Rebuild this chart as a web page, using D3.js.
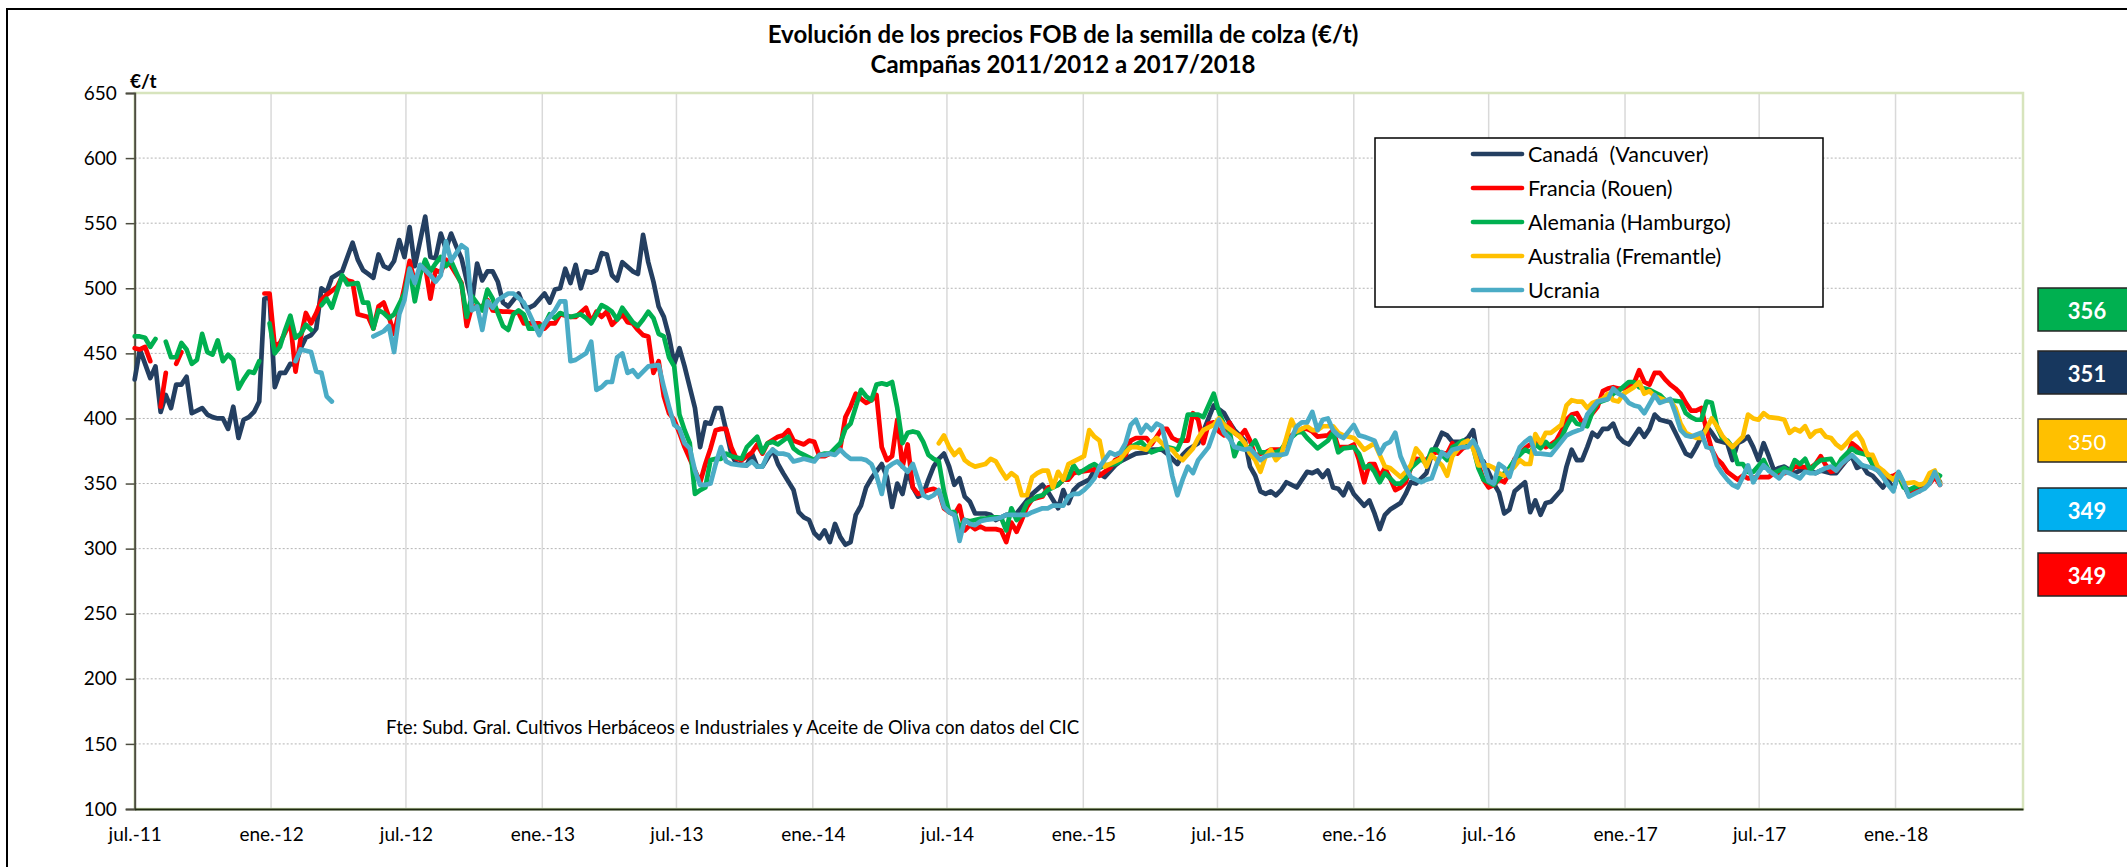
<!DOCTYPE html>
<html><head><meta charset="utf-8">
<script src="https://cdn.jsdelivr.net/npm/d3@7"></script>
<style>
html,body{margin:0;padding:0;background:#fff;}
svg{display:block;font-family:Lato,"Open Sans",sans-serif;}
svg text{white-space:pre;}
</style></head><body>
<svg id="c" width="2127" height="867"></svg>
<script>
// ---------- DATA ----------
const titleLines = ["Evolución de los precios FOB de la semilla de colza (€/t)", "Campañas 2011/2012 a 2017/2018"];
const unitLabel = "€/t";
const sourceNote = "Fte: Subd. Gral. Cultivos Herbáceos e Industriales y Aceite de Oliva con datos del CIC";
const firstWeek = new Date(2011, 6, 1);          // week index 0
const yTicks = [100,150,200,250,300,350,400,450,500,550,600,650];
const xTickLabels = ["jul.-11","ene.-12","jul.-12","ene.-13","jul.-13","ene.-14","jul.-14","ene.-15","jul.-15","ene.-16","jul.-16","ene.-17","jul.-17","ene.-18"];
const seriesNames = ["Canadá  (Vancuver)","Francia (Rouen)","Alemania (Hamburgo)","Australia (Fremantle)","Ucrania"];

// [week index, €/t]; null = no quotation
const canada = [[0,430],[1,453],[3,431],[4,440],[5,405],[6,418],[7,408],[8,426],[9,426],[10,432],[11,404],[13,408],[14,403],[15,401],[16,400],[17,400],[18,392],[19,409],[20,385],[21,399],[22,401],[23,405],[24,413],[25,492],[26,493],[27,424],[28,435],[29,435],[30,442],[31,441],[32,454],[33,462],[34,464],[35,469],[36,500],[37,497],[38,508],[40,513],[42,535],[43,522],[44,514],[45,511],[46,508],[47,526],[48,517],[49,515],[50,521],[51,537],[52,524],[53,547],[54,517],[56,555],[57,524],[58,523],[59,542],[60,530],[61,542],[62,532],[63,523],[64,506],[65,489],[66,519],[67,506],[68,513],[69,513],[70,505],[71,489],[72,486],[73,491],[74,496],[75,486],[76,485],[77,487],[79,496],[80,489],[81,499],[82,500],[83,515],[84,504],[85,518],[86,500],[87,513],[88,512],[89,514],[90,527],[91,526],[92,510],[93,506],[94,520],[96,513],[97,511],[98,541],[99,520],[100,505],[101,486],[102,478],[103,463],[104,442],[105,454],[106,440],[107,424],[108,408],[109,378],[110,397],[111,396],[112,408],[113,408],[114,391],[115,373],[116,365],[118,364],[119,373],[120,363],[121,363],[123,376],[124,365],[125,358],[127,345],[128,328],[129,324],[130,322],[131,312],[132,308],[133,314],[134,305],[135,319],[136,309],[137,303],[138,305],[139,326],[140,333],[141,347],[142,354],[144,365],[145,355],[146,332],[147,350],[148,342],[149,360],[150,347],[151,340],[152,342],[153,353],[154,363],[155,369],[156,373],[157,363],[158,349],[159,354],[160,340],[161,336],[162,327],[164,327],[165,326],[166,322],[168,326],[170,327],[172,337],[173,342],[175,349],[176,344],[178,331],[179,345],[180,335],[181,345],[182,349],[184,353],[185,360],[187,355],[189,364],[190,367],[192,371],[193,373],[195,374],[196,376],[198,376],[199,373],[201,365],[202,372],[203,376],[205,381],[206,390],[207,400],[208,410],[210,404],[211,397],[212,391],[214,383],[215,363],[216,356],[217,344],[218,342],[219,344],[220,341],[221,345],[222,351],[224,347],[226,359],[227,358],[228,360],[229,355],[230,360],[231,347],[232,346],[233,341],[234,350],[235,342],[237,333],[238,337],[239,327],[240,315],[241,326],[242,330],[244,335],[245,342],[246,351],[247,350],[249,358],[250,372],[251,380],[252,389],[253,387],[254,382],[256,382],[257,385],[258,391],[259,369],[260,367],[262,350],[263,343],[264,327],[265,330],[266,344],[268,351],[269,328],[270,337],[271,326],[272,335],[273,336],[275,345],[276,363],[277,376],[278,368],[279,368],[280,378],[281,389],[282,386],[283,392],[284,392],[285,396],[286,386],[287,382],[288,380],[289,386],[290,392],[291,386],[292,392],[293,403],[294,399],[296,397],[297,389],[298,381],[299,373],[300,371],[301,378],[302,386],[303,394],[304,389],[305,383],[307,381],[308,368],[309,381],[310,383],[311,386],[312,378],[313,368],[314,381],[315,371],[316,360],[317,362],[318,363],[320,358],[321,360],[322,362],[324,358],[325,360],[327,358],[328,358],[330,368],[331,371],[332,362],[333,364],[334,358],[335,356],[337,347],[338,353],[339,345],[340,358],[341,349],[342,341],[344,346],[345,347],[347,358],[348,351]];

const francia = [[0,454],[1,453],[2,455],[3,444],[4,null],[5,409],[6,435],[7,null],[8,442],[9,451],[10,null],[25,496],[26,496],[27,455],[28,458],[30,474],[31,436],[32,462],[33,481],[34,473],[35,481],[36,491],[37,495],[39,501],[40,509],[41,506],[42,505],[43,480],[45,478],[46,469],[47,486],[48,489],[49,478],[50,465],[51,483],[52,501],[53,521],[54,504],[55,512],[56,517],[57,492],[58,514],[59,512],[60,522],[61,517],[63,504],[64,471],[65,486],[67,486],[68,491],[69,483],[71,482],[72,482],[74,481],[75,473],[76,473],[78,473],[79,469],[80,473],[81,473],[82,480],[84,478],[85,478],[87,485],[88,474],[89,482],[90,478],[91,482],[92,472],[94,480],[95,474],[96,473],[97,468],[98,464],[99,463],[100,435],[101,444],[102,417],[103,404],[104,399],[105,389],[106,378],[108,360],[109,351],[110,365],[111,377],[112,391],[113,392],[114,392],[115,378],[116,369],[117,368],[119,374],[120,380],[121,373],[122,381],[124,386],[125,387],[126,391],[127,383],[129,380],[130,383],[131,382],[132,371],[133,371],[134,373],[136,377],[137,401],[138,409],[139,419],[140,415],[141,412],[142,414],[143,418],[144,378],[145,368],[146,371],[147,399],[148,363],[149,380],[150,347],[151,342],[153,345],[154,346],[155,344],[156,331],[157,328],[158,326],[159,333],[160,314],[161,318],[162,315],[163,317],[164,315],[166,315],[167,314],[168,305],[169,320],[170,313],[171,322],[172,332],[173,338],[175,340],[176,347],[178,349],[179,353],[180,353],[181,358],[182,359],[184,360],[185,361],[186,356],[188,362],[189,368],[191,372],[192,383],[193,385],[195,385],[196,380],[197,386],[198,392],[199,392],[200,385],[201,383],[203,383],[204,404],[205,399],[206,381],[207,396],[208,397],[209,390],[210,387],[211,397],[212,389],[213,386],[214,391],[215,383],[216,371],[217,373],[218,374],[219,376],[221,376],[222,381],[223,387],[225,392],[226,392],[227,390],[228,386],[230,387],[231,391],[232,378],[234,378],[235,380],[236,368],[237,351],[238,365],[239,365],[240,355],[241,362],[242,354],[243,345],[244,347],[245,351],[246,362],[247,369],[249,368],[250,373],[251,374],[253,373],[254,381],[255,373],[256,377],[258,381],[259,365],[260,353],[261,347],[262,349],[263,353],[264,351],[265,358],[266,369],[267,373],[268,377],[269,380],[270,381],[271,381],[272,378],[273,380],[274,383],[275,390],[276,399],[277,403],[278,404],[279,397],[280,400],[281,404],[282,409],[283,421],[284,423],[285,424],[286,423],[287,423],[289,427],[290,437],[291,428],[292,426],[293,435],[294,435],[295,430],[296,426],[297,423],[298,419],[299,412],[300,406],[301,406],[302,408],[303,391],[304,376],[305,369],[306,365],[307,359],[309,353],[310,356],[311,354],[313,355],[314,355],[315,355],[316,358],[318,358],[319,359],[320,363],[321,363],[323,362],[324,365],[325,371],[326,364],[327,359],[328,360],[330,369],[331,381],[332,378],[333,374],[334,373],[335,365],[336,360],[337,356],[338,355],[339,356],[340,358],[341,349],[342,344],[344,344],[345,349],[346,350],[347,355],[348,349]];

const alemania = [[0,463],[1,463],[2,462],[3,455],[4,461],[5,null],[6,459],[7,447],[8,447],[9,458],[10,453],[11,442],[12,445],[13,465],[14,451],[15,449],[16,460],[17,444],[18,449],[19,445],[20,423],[21,430],[22,436],[23,435],[24,444],[25,null],[26,473],[27,450],[28,455],[29,468],[30,479],[31,462],[32,465],[33,472],[34,468],[35,null],[36,487],[37,492],[38,485],[40,510],[41,503],[43,504],[44,489],[45,489],[46,469],[47,483],[48,481],[49,477],[50,480],[52,496],[53,515],[54,490],[55,510],[56,522],[57,513],[58,519],[59,524],[60,517],[61,521],[62,512],[63,503],[64,478],[65,494],[67,483],[68,499],[69,492],[70,481],[71,471],[72,468],[73,480],[74,483],[75,480],[76,469],[77,469],[79,472],[80,480],[81,477],[82,481],[84,478],[86,480],[87,477],[88,473],[90,487],[91,485],[92,482],[93,476],[94,485],[96,474],[97,471],[98,476],[99,482],[100,477],[101,465],[102,463],[103,447],[104,440],[105,403],[106,391],[107,381],[108,342],[109,345],[110,347],[111,368],[112,369],[113,369],[114,373],[115,371],[117,369],[118,378],[119,382],[120,386],[121,374],[122,381],[123,382],[124,380],[125,383],[126,386],[127,377],[128,374],[129,372],[131,368],[132,372],[133,373],[134,373],[135,377],[136,381],[137,392],[138,396],[139,409],[140,422],[141,417],[142,414],[143,426],[144,427],[145,426],[146,428],[147,408],[148,381],[149,389],[150,390],[151,389],[152,382],[153,372],[154,369],[155,367],[156,344],[157,328],[158,328],[159,315],[160,322],[161,321],[162,322],[163,323],[164,323],[165,324],[167,324],[168,314],[169,331],[170,322],[171,326],[172,335],[174,340],[175,341],[176,345],[178,349],[179,353],[180,355],[181,364],[182,358],[184,363],[185,365],[186,362],[187,364],[189,365],[190,367],[191,376],[192,378],[194,382],[195,378],[196,374],[198,377],[199,378],[200,377],[201,376],[202,385],[203,403],[205,403],[206,401],[207,410],[208,419],[209,405],[210,395],[211,391],[212,371],[213,381],[214,377],[215,378],[216,383],[217,374],[218,374],[220,374],[221,376],[222,382],[224,389],[225,390],[226,385],[227,381],[228,377],[230,383],[231,389],[232,374],[233,377],[235,378],[236,373],[237,362],[238,364],[239,359],[240,351],[241,358],[243,350],[244,350],[245,354],[246,362],[248,369],[249,365],[250,376],[251,376],[253,368],[254,378],[255,380],[256,383],[258,378],[259,362],[260,353],[262,349],[263,354],[264,358],[265,362],[266,368],[267,372],[268,376],[269,374],[270,380],[271,377],[272,382],[273,378],[275,385],[276,394],[277,401],[278,396],[280,394],[281,405],[282,412],[284,415],[285,419],[286,421],[288,428],[289,428],[290,424],[292,422],[294,418],[295,414],[296,414],[298,413],[299,404],[300,401],[301,399],[302,399],[303,413],[304,412],[305,394],[306,385],[307,383],[308,378],[309,365],[310,365],[311,359],[312,359],[314,368],[315,360],[316,358],[318,362],[319,359],[320,368],[321,365],[322,369],[323,360],[324,365],[325,368],[327,369],[328,362],[329,369],[330,373],[331,377],[332,374],[334,372],[335,365],[336,362],[337,359],[339,353],[340,356],[341,347],[342,345],[343,347],[345,350],[346,354],[347,358],[348,356]];

const australia = [[155,381],[156,387],[157,378],[158,372],[159,376],[160,368],[161,365],[162,363],[164,365],[165,369],[166,367],[167,360],[168,354],[169,358],[170,355],[171,341],[172,341],[173,355],[174,358],[175,360],[176,360],[177,347],[178,359],[179,353],[180,365],[182,369],[183,371],[184,391],[185,386],[186,383],[187,363],[188,365],[190,369],[191,374],[192,378],[193,378],[195,376],[196,382],[197,385],[199,377],[200,376],[201,371],[202,368],[204,377],[205,385],[206,391],[208,395],[209,400],[210,395],[211,392],[213,386],[214,381],[215,373],[216,368],[217,359],[218,371],[219,376],[220,368],[221,372],[222,385],[223,399],[224,390],[226,394],[227,391],[228,391],[229,394],[231,394],[232,389],[233,387],[235,385],[236,381],[237,376],[239,381],[240,372],[241,363],[242,362],[244,355],[245,359],[246,364],[247,377],[248,372],[249,363],[250,372],[252,364],[253,356],[254,371],[255,376],[256,381],[257,383],[258,377],[259,364],[261,364],[262,362],[263,358],[264,356],[266,363],[267,368],[268,365],[269,365],[270,388],[271,381],[272,389],[273,389],[274,392],[275,395],[276,410],[277,414],[278,413],[279,413],[280,408],[281,412],[283,415],[284,419],[285,414],[286,413],[287,419],[289,424],[290,428],[291,419],[292,421],[293,417],[295,414],[296,414],[297,408],[298,396],[299,389],[301,385],[302,385],[303,392],[304,400],[305,394],[306,387],[307,382],[308,378],[310,386],[311,403],[312,400],[313,399],[314,404],[315,401],[317,400],[318,399],[319,389],[320,392],[321,390],[322,394],[323,386],[324,390],[325,391],[326,386],[327,385],[328,380],[329,377],[330,381],[331,386],[332,389],[333,383],[334,372],[335,372],[336,363],[337,360],[338,356],[339,353],[340,358],[341,350],[343,351],[344,349],[345,350],[346,358],[347,360],[348,350]];

const ucrania = [[31,444],[32,453],[34,451],[35,436],[36,435],[37,417],[38,413],[39,null],[46,463],[48,467],[49,471],[50,451],[51,480],[52,491],[53,515],[54,504],[55,518],[56,514],[57,510],[58,505],[59,510],[60,536],[61,521],[62,527],[63,533],[64,530],[65,483],[66,486],[67,468],[68,490],[69,485],[70,491],[72,496],[73,496],[75,489],[76,481],[78,464],[79,473],[81,483],[82,490],[83,490],[84,444],[85,445],[87,450],[88,459],[89,422],[90,424],[91,428],[92,428],[93,447],[94,450],[95,435],[96,437],[97,432],[98,436],[99,440],[101,441],[102,424],[103,409],[104,395],[105,392],[106,381],[107,377],[108,360],[109,349],[110,349],[111,350],[112,365],[113,378],[114,367],[115,365],[117,364],[118,364],[119,367],[120,363],[121,363],[122,372],[123,376],[124,373],[125,373],[126,372],[127,367],[128,368],[129,369],[131,367],[132,372],[133,372],[134,373],[135,372],[136,376],[137,372],[138,369],[140,369],[141,368],[142,365],[143,356],[144,342],[145,362],[146,365],[147,367],[148,363],[149,359],[150,365],[151,353],[152,341],[153,339],[154,341],[155,345],[156,332],[157,328],[158,326],[159,306],[160,322],[161,319],[162,318],[163,321],[164,322],[166,323],[167,324],[168,326],[170,326],[171,326],[172,326],[173,328],[175,331],[176,331],[177,333],[179,333],[180,340],[181,342],[182,342],[183,345],[184,349],[185,354],[186,363],[188,374],[189,372],[190,374],[191,381],[192,395],[193,399],[194,389],[195,395],[196,391],[197,396],[198,394],[199,377],[200,356],[201,341],[202,353],[203,363],[204,358],[205,368],[206,373],[207,378],[208,389],[209,399],[210,389],[211,385],[212,378],[213,377],[214,376],[215,377],[217,368],[218,371],[219,372],[221,372],[222,373],[223,385],[224,394],[225,397],[226,397],[227,405],[228,391],[229,399],[230,400],[231,391],[232,387],[233,385],[235,395],[236,387],[237,386],[239,383],[240,373],[241,380],[242,382],[243,389],[244,371],[245,362],[246,355],[248,351],[249,353],[250,354],[251,365],[252,374],[253,371],[254,376],[256,378],[257,378],[258,383],[259,376],[260,365],[261,352],[262,350],[263,365],[264,362],[265,355],[266,368],[267,378],[268,382],[269,385],[270,373],[271,373],[273,372],[274,377],[276,387],[277,389],[279,392],[280,403],[281,408],[282,413],[284,415],[285,423],[286,419],[287,417],[288,412],[289,410],[290,409],[291,404],[293,418],[294,412],[296,415],[297,404],[298,391],[299,387],[300,386],[302,389],[303,378],[304,377],[305,364],[306,358],[307,353],[308,349],[309,347],[310,355],[311,364],[312,351],[313,358],[314,364],[315,360],[317,354],[318,359],[319,358],[321,354],[322,359],[323,358],[324,358],[326,362],[327,363],[328,360],[329,365],[331,372],[332,368],[333,364],[335,362],[336,360],[337,355],[338,349],[339,344],[340,359],[341,351],[342,340],[343,342],[345,346],[346,350],[347,359],[348,349]];

// last-value boxes (top to bottom)
const boxValues = [356, 351, 350, 349, 349];
const boxSeries = ["Alemania (Hamburgo)","Canadá  (Vancuver)","Australia (Fremantle)","Ucrania","Francia (Rouen)"];

// ---------- STYLE ----------
const lineColors = {"Canadá  (Vancuver)":"#243f61","Francia (Rouen)":"#ff0000","Alemania (Hamburgo)":"#00b050","Australia (Fremantle)":"#ffc000","Ucrania":"#4bacc6"};
const boxColors = {"Alemania (Hamburgo)":"#00b050","Canadá  (Vancuver)":"#17375e","Australia (Fremantle)":"#ffc000","Ucrania":"#00b0f0","Francia (Rouen)":"#ff0000"};
const seriesData = [canada, francia, alemania, australia, ucrania];

const svg = d3.select("#c");
const P = {l:134.7, r:2023, t:93, b:809};
const x = d3.scaleTime().domain([new Date(2011,6,1), new Date(2018,5,22)]).range([P.l, P.r]);
const y = d3.scaleLinear().domain([100,650]).range([P.b, P.t]);
const wDate = w => d3.timeDay.offset(firstWeek, 7*w);
const xTickDates = xTickLabels.map((s,i) => new Date(2011 + Math.floor((i+1)/2), i%2===0 ? 6 : 0, 1));

// outer frame
svg.append("rect").attr("x",7).attr("y",9).attr("width",2300).attr("height",1000)
  .attr("fill","#fff").attr("stroke","#000").attr("stroke-width",2);

// title
svg.selectAll("text.title").data(titleLines).join("text").attr("class","title")
  .attr("x",1063).attr("y",(d,i)=>33+i*30).attr("text-anchor","middle").attr("dominant-baseline","central")
  .attr("font-size",24).attr("font-weight","bold").attr("fill","#000").text(d=>d);

// grid
const grid = svg.append("g");
grid.selectAll("line.h").data(yTicks.filter(v=>v>100 && v<650)).join("line")
  .attr("x1",P.l).attr("x2",P.r).attr("y1",d=>y(d)).attr("y2",d=>y(d))
  .attr("stroke","#b3b3b3").attr("stroke-width",1).attr("stroke-dasharray","2,2");
grid.selectAll("line.v").data(xTickDates.slice(1)).join("line")
  .attr("x1",d=>x(d)).attr("x2",d=>x(d)).attr("y1",P.t).attr("y2",P.b)
  .attr("stroke","#d9d9d9").attr("stroke-width",1.5);
// plot area border
svg.append("rect").attr("x",P.l).attr("y",P.t).attr("width",P.r-P.l).attr("height",P.b-P.t)
  .attr("fill","none").attr("stroke","#d7e4bd").attr("stroke-width",2.5);

// axes
const yAxis = svg.append("g").attr("transform",`translate(${P.l},0)`)
  .call(d3.axisLeft(y).tickValues(yTicks).tickSize(9).tickPadding(9));
yAxis.select(".domain").attr("stroke","#4d4d40").attr("stroke-width",2);
yAxis.selectAll(".tick line").attr("stroke","#4d4d40").attr("stroke-width",1.5);
yAxis.selectAll(".tick text").attr("font-size",19).attr("font-family","Lato").attr("fill","#000");

const xAxis = svg.append("g").attr("transform",`translate(0,${P.b})`)
  .call(d3.axisBottom(x).tickValues(xTickDates).tickSize(0).tickPadding(19).tickFormat((d,i)=>xTickLabels[i]));
xAxis.select(".domain").attr("stroke","#1f2a10").attr("stroke-width",2.2);
xAxis.selectAll(".tick text").attr("font-size",19).attr("font-family","Lato").attr("fill","#000");

svg.append("text").attr("x",130).attr("y",80).attr("dominant-baseline","central")
  .attr("font-size",19).attr("font-weight","bold").text(unitLabel);

// source note
svg.append("text").attr("x",386).attr("y",727).attr("dominant-baseline","central")
  .attr("font-size",18.7).attr("fill","#000").text(sourceNote);

// lines
const line = d3.line().defined(d=>d[1]!==null).x(d=>x(wDate(d[0]))).y(d=>y(d[1]));
svg.append("g").selectAll("path").data(seriesData).join("path")
  .attr("d",line).attr("fill","none").attr("stroke",(d,i)=>lineColors[seriesNames[i]])
  .attr("stroke-width",4.7).attr("stroke-linejoin","round").attr("stroke-linecap","round");

// legend
const lg = svg.append("g");
lg.append("rect").attr("x",1375).attr("y",138).attr("width",448).attr("height",169)
  .attr("fill","#fff").attr("stroke","#000").attr("stroke-width",1.5);
const li = lg.selectAll("g.it").data(seriesNames).join("g").attr("transform",(d,i)=>`translate(0,${154+i*34})`);
li.append("line").attr("x1",1473).attr("x2",1522).attr("stroke",d=>lineColors[d]).attr("stroke-width",4.7).attr("stroke-linecap","round");
li.append("text").attr("x",1528).attr("dominant-baseline","central").attr("font-size",21.5).attr("fill","#000").text(d=>d);

// last value boxes
const boxTops = [288, 351, 419, 488, 553];
const bx = svg.append("g").selectAll("g").data(boxValues).join("g");
bx.append("rect").attr("x",2038).attr("y",(d,i)=>boxTops[i]).attr("width",120).attr("height",43)
  .attr("fill",(d,i)=>boxColors[boxSeries[i]]).attr("stroke","#262626").attr("stroke-width",1.5);
bx.append("text").attr("x",2087).attr("y",(d,i)=>boxTops[i]+22).attr("text-anchor","middle").attr("dominant-baseline","central")
  .attr("font-size",22).attr("font-weight",(d,i)=>i===2?"normal":"bold").attr("fill","#fff").text(d=>d);
</script>
</body></html>
